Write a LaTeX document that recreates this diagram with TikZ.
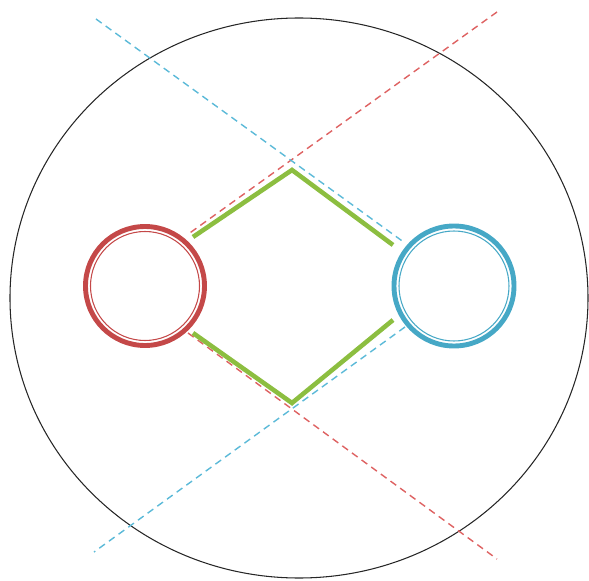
\documentclass[tikz,border=0pt]{standalone}
\definecolor{ringred}{RGB}{196,72,72}
\definecolor{ringblue}{RGB}{70,168,198}
\definecolor{dashred}{RGB}{222,98,98}
\definecolor{dashblue}{RGB}{92,186,216}
\definecolor{bondgreen}{RGB}{140,190,64}
\tikzset{
  ring/.style={line width=2.8pt},
  innerring/.style={line width=0.6pt},
  axisline/.style={line width=0.8pt, dash pattern=on 4pt off 2.8pt},
  bond/.style={bondgreen, line width=2.6pt},
}
\begin{document}
\begin{tikzpicture}[x=0.02cm, y=-0.02cm]
    \useasboundingbox (0,0) rectangle (589,581);

    % outer boundary
    \draw[line width=0.6pt, black!85] (299,298) ellipse (289 and 280);

    % dashed axes
    \coordinate (redA) at (497,12);
    \coordinate (redB) at (187,235);
    \coordinate (redC) at (188,333);
    \coordinate (redD) at (497,559);
    \coordinate (blueA) at (96,19);
    \coordinate (blueB) at (405,243);
    \coordinate (blueC) at (405,327);
    \coordinate (blueD) at (94,552);
    \draw[axisline, dashred] (redA) -- (redB);
    \draw[axisline, dashred] (redC) -- (redD);
    \draw[axisline, dashblue] (blueA) -- (blueB);
    \draw[axisline, dashblue] (blueC) -- (blueD);

    % green bonds
    \coordinate (ul) at (193,237);
    \coordinate (top) at (292,170);
    \coordinate (ur) at (393,245);
    \coordinate (ll) at (193,333);
    \coordinate (bot) at (292,403);
    \coordinate (lr) at (393,320);
    \draw[bond] (ul) -- (top) -- (ur);
    \draw[bond] (ll) -- (bot) -- (lr);

    % rings
    \coordinate (redc) at (145,286);
    \coordinate (bluec) at (454,286);
    \draw[ring, ringred] (redc) circle (59.5);
    \draw[innerring, ringred] (redc) circle (54.5);
    \draw[ring, ringblue] (bluec) circle (60);
    \draw[innerring, ringblue] (bluec) circle (55);
\end{tikzpicture}
\end{document}
